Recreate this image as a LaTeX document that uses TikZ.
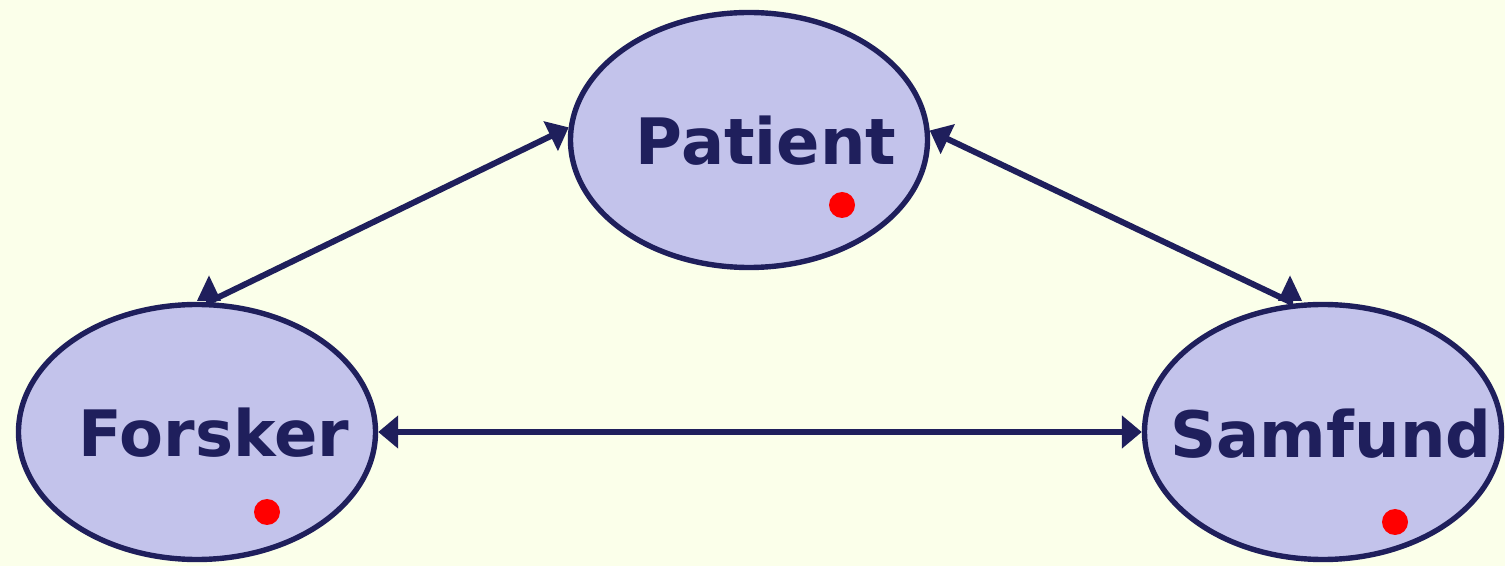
\documentclass[tikz,border=0pt]{standalone}
\usepackage{fontspec}
\setmainfont{DejaVu Sans}
\usetikzlibrary{shapes.geometric,arrows.meta}
\definecolor{navy}{HTML}{1F1F5C}
\definecolor{lilac}{HTML}{C3C3EB}
\definecolor{paper}{HTML}{FBFFEA}
\begin{document}
\begin{tikzpicture}[x=0.5pt, y=-0.5pt,
  main node/.style={ellipse,draw=navy,fill=lilac,line width=2.7pt,minimum width=178.5pt,minimum height=127.5pt,inner sep=0pt},
  dot node/.style={circle,fill=red,minimum size=13pt,inner sep=0pt},
  link/.style={draw=navy,line width=3pt},
  bigtip/.tip={Triangle[length=10pt,width=16pt]},
  uptip/.tip={Triangle[length=13pt,width=11pt]}]
\fill [paper] (0,0) rectangle (1505,566);
\useasboundingbox (0,0) rectangle (1505,566);
\node [main node](v1) at (749,140) {};
\node [main node](v2) at (197,432) {};
\node [main node](v3) at (1323,432) {};
\begin{scope}[every node/.style={text=navy,font=\fontsize{32pt}{38pt}\selectfont\bfseries,anchor=base}]
\node (t1) at (766,165) {Patient};
\node (t2) at (214,457) {Forsker};
\node (t3) at (1331,458) {Samfund};
\end{scope}
\node [dot node](d1) at (842,205) {};
\node [dot node](d2) at (267,512) {};
\node [dot node](d3) at (1395,522) {};
\coordinate (f1) at ([xshift=6pt]v2.north);
\coordinate (f2) at ([xshift=6pt,yshift=13.5pt]v2.north);
\coordinate (s1) at ([xshift=-16.5pt]v3.north);
\coordinate (s2) at ([xshift=-16.5pt,yshift=13.5pt]v3.north);
\draw [link,{uptip}-{bigtip}] (f2) -- (f1) -- (v1.176);
\draw [link,{bigtip}-{uptip}] (v1.3) -- (s1) -- (s2);
\path (v2.east) edge [link,{bigtip}-{bigtip}] (v3.west);
\end{tikzpicture}
\end{document}
